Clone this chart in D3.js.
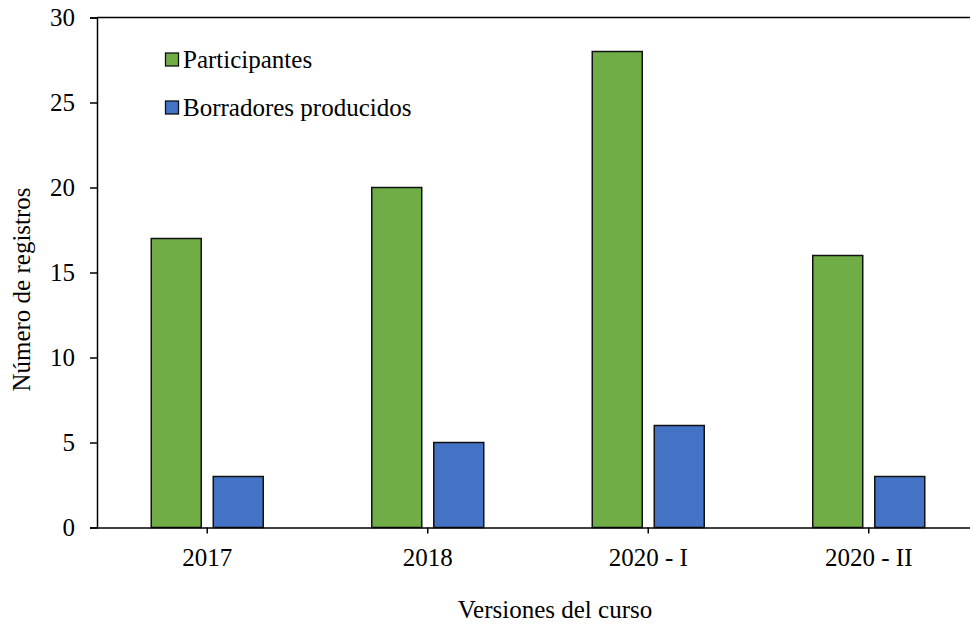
<!DOCTYPE html>
<html><head><meta charset="utf-8">
<script src="https://cdn.jsdelivr.net/npm/d3@7"></script>
<style>body{margin:0;background:#fff;}</style>
</head><body><svg id="c" width="970" height="624"></svg>
<script>
const categories = ["2017", "2018", "2020 - I", "2020 - II"];
const seriesNames = ["Participantes", "Borradores producidos"];
const participantes = [17, 20, 28, 16];
const borradores = [3, 5, 6, 3];
const yTicks = [0, 5, 10, 15, 20, 25, 30];
const colors = ["#70AD47", "#4472C4"];

(function () {
const FONT = "'Liberation Serif', 'Times New Roman', serif";
const FS = "25px";
const svg = d3.select("#c");
const mL = 97, mR = 979, mT = 17.5, mB = 527.5;
const x = d3.scaleBand().domain(categories).range([mL, mR]);
const x1 = d3.scaleBand().domain(seriesNames).range([-56, 56]).paddingInner(0.194);
const y = d3.scaleLinear().domain([0, 30]).range([mB, mT]);
const data = categories.map((c, i) => ({cat: c, vals: [participantes[i], borradores[i]]}));

// top border
svg.append("line").attr("x1", mL).attr("x2", 970).attr("y1", mT).attr("y2", mT).attr("stroke", "#000").attr("stroke-width", 1.5);

// bars
const g = svg.append("g");
data.forEach(d => {
  d.vals.forEach((v, j) => {
    g.append("rect")
      .attr("x", x(d.cat) + x.bandwidth() / 2 + x1(seriesNames[j]))
      .attr("y", y(v))
      .attr("width", x1.bandwidth())
      .attr("height", y(0) - y(v))
      .attr("fill", colors[j])
      .attr("stroke", "#111").attr("stroke-width", 1.5);
  });
});

// y axis
const ya = svg.append("g").attr("transform", `translate(${mL},0)`)
  .call(d3.axisLeft(y).tickValues(yTicks).tickSize(7).tickPadding(15));
ya.select(".domain").attr("stroke", "#000").attr("stroke-width", 1.5);
ya.selectAll(".tick line").attr("stroke", "#000").attr("stroke-width", 1.5);
ya.selectAll("text").style("font-size", FS).style("font-family", FONT).attr("fill", "#000");

// x axis
const xa = svg.append("g").attr("transform", `translate(0,${mB})`)
  .call(d3.axisBottom(x).tickSize(6).tickPadding(14.5).tickSizeOuter(0));
xa.select(".domain").attr("stroke", "#000").attr("stroke-width", 1.5);
xa.selectAll(".tick line").attr("stroke", "#000").attr("stroke-width", 1.5);
xa.selectAll("text").style("font-size", FS).style("font-family", FONT).attr("fill", "#000");

// titles
svg.append("text").attr("x", 555).attr("y", 618).attr("text-anchor", "middle")
  .style("font-size", FS).style("font-family", FONT).text("Versiones del curso");
svg.append("text").attr("transform", "translate(30,289.5) rotate(-90)").attr("text-anchor", "middle")
  .style("font-size", FS).style("font-family", FONT).text("Número de registros");

// legend
const lg = svg.append("g");
seriesNames.forEach((s, i) => {
  const yy = 53 + i * 48;
  lg.append("rect").attr("x", 165.5).attr("y", yy).attr("width", 13).attr("height", 13)
    .attr("fill", colors[i]).attr("stroke", "#111").attr("stroke-width", 1.3);
  lg.append("text").attr("x", 183).attr("y", yy + 14.5)
    .style("font-size", FS).style("font-family", FONT).text(s);
});
})();
</script></body></html>
